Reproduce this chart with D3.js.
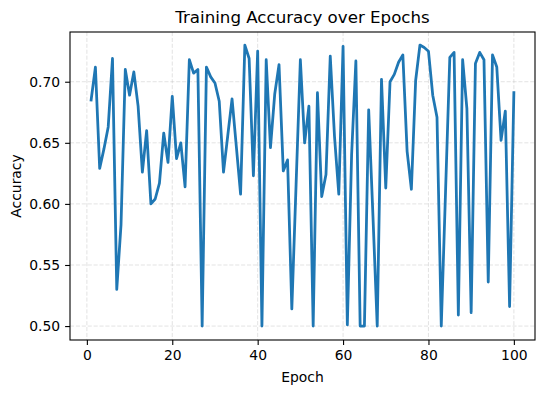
<!DOCTYPE html>
<html>
<head>
<meta charset="utf-8">
<title>Training Accuracy over Epochs</title>
<style>
body { margin: 0; background: #fff; }
#chart { display: block; }
text { font-family: "DejaVu Sans", sans-serif; fill: #000; }
.grid line { stroke: #b0b0b0; stroke-opacity: 0.45; stroke-dasharray: 4.1,1.8; stroke-width: 0.8; }
</style>
</head>
<body>
<svg id="chart" width="545" height="393"></svg>
<script src="https://d3js.org/d3.v7.min.js"></script>
<script>
// epoch numbers 1..100
const epochs = [
  1, 2, 3, 4, 5, 6, 7, 8, 9, 10,
  11, 12, 13, 14, 15, 16, 17, 18, 19, 20,
  21, 22, 23, 24, 25, 26, 27, 28, 29, 30,
  31, 32, 33, 34, 35, 36, 37, 38, 39, 40,
  41, 42, 43, 44, 45, 46, 47, 48, 49, 50,
  51, 52, 53, 54, 55, 56, 57, 58, 59, 60,
  61, 62, 63, 64, 65, 66, 67, 68, 69, 70,
  71, 72, 73, 74, 75, 76, 77, 78, 79, 80,
  81, 82, 83, 84, 85, 86, 87, 88, 89, 90,
  91, 92, 93, 94, 95, 96, 97, 98, 99, 100
];

// accuracy
const accuracy = [
  0.685, 0.712, 0.629, 0.645, 0.663, 0.719, 0.530, 0.583, 0.710, 0.689,
  0.708, 0.680, 0.626, 0.660, 0.600, 0.604, 0.617, 0.658, 0.634, 0.688,
  0.637, 0.650, 0.614, 0.718, 0.707, 0.710, 0.500, 0.712, 0.704, 0.699,
  0.684, 0.626, 0.656, 0.686, 0.647, 0.608, 0.730, 0.719, 0.623, 0.725,
  0.500, 0.718, 0.646, 0.690, 0.714, 0.627, 0.636, 0.514, 0.616, 0.718,
  0.650, 0.680, 0.500, 0.691, 0.606, 0.624, 0.721, 0.655, 0.608, 0.729,
  0.501, 0.640, 0.717, 0.500, 0.500, 0.677, 0.590, 0.500, 0.702, 0.613,
  0.700, 0.706, 0.716, 0.722, 0.643, 0.612, 0.701, 0.730, 0.728, 0.725,
  0.689, 0.671, 0.500, 0.610, 0.720, 0.724, 0.509, 0.718, 0.678, 0.511,
  0.715, 0.724, 0.718, 0.536, 0.722, 0.712, 0.652, 0.676, 0.516, 0.691
];

const xTicks = [0, 20, 40, 60, 80, 100];
const yTicks = [0.50, 0.55, 0.60, 0.65, 0.70];

const plot = { left: 70, right: 535, top: 32, bottom: 340 };

const svg = d3.select("#chart");

const x = d3.scaleLinear().domain([-3.95, 104.95]).range([plot.left, plot.right]);
const y = d3.scaleLinear().domain([0.4886, 0.7407]).range([plot.bottom, plot.top]);

// grid
const grid = svg.append("g").attr("class", "grid");
grid.selectAll(".gx").data(xTicks).enter().append("line")
  .attr("x1", d => x(d)).attr("x2", d => x(d))
  .attr("y1", plot.top).attr("y2", plot.bottom);
grid.selectAll(".gy").data(yTicks).enter().append("line")
  .attr("x1", plot.left).attr("x2", plot.right)
  .attr("y1", d => y(d)).attr("y2", d => y(d));

// line
const data = epochs.map((e, i) => ({ epoch: e, acc: accuracy[i] }));
const line = d3.line().x(d => x(d.epoch)).y(d => y(d.acc));

svg.append("path")
  .datum(data)
  .attr("fill", "none")
  .attr("stroke", "#1f77b4")
  .attr("stroke-width", 2.78)
  .attr("stroke-linejoin", "round")
  .attr("stroke-linecap", "square")
  .attr("d", line);

// axes
const xAxis = d3.axisBottom(x).tickValues(xTicks).tickSize(4.9).tickPadding(4.9)
  .tickFormat(d3.format("d"));
const yAxis = d3.axisLeft(y).tickValues(yTicks).tickSize(4.9).tickPadding(4.9)
  .tickFormat(d3.format(".2f"));

const gx = svg.append("g").attr("transform", `translate(0,${plot.bottom})`).call(xAxis);
const gy = svg.append("g").attr("transform", `translate(${plot.left},0)`).call(yAxis);
[gx, gy].forEach(g => {
  g.select(".domain").remove();
  g.selectAll(".tick line").attr("stroke", "#000").attr("stroke-width", 1.1);
  g.selectAll(".tick text").style("font-size", "13.9px").attr("fill", "#000");
});

// frame
svg.append("rect")
  .attr("x", plot.left).attr("y", plot.top)
  .attr("width", plot.right - plot.left).attr("height", plot.bottom - plot.top)
  .attr("fill", "none").attr("stroke", "#000").attr("stroke-width", 1.1);

// title and labels
svg.append("text")
  .attr("x", (plot.left + plot.right) / 2).attr("y", 22.5)
  .attr("text-anchor", "middle").style("font-size", "16.67px")
  .text("Training Accuracy over Epochs");

svg.append("text")
  .attr("x", (plot.left + plot.right) / 2).attr("y", 382)
  .attr("text-anchor", "middle").style("font-size", "13.9px")
  .text("Epoch");

svg.append("text")
  .attr("transform", `translate(20.5,${(plot.top + plot.bottom) / 2}) rotate(-90)`)
  .attr("text-anchor", "middle").style("font-size", "13.9px")
  .text("Accuracy");
</script>
</body>
</html>
